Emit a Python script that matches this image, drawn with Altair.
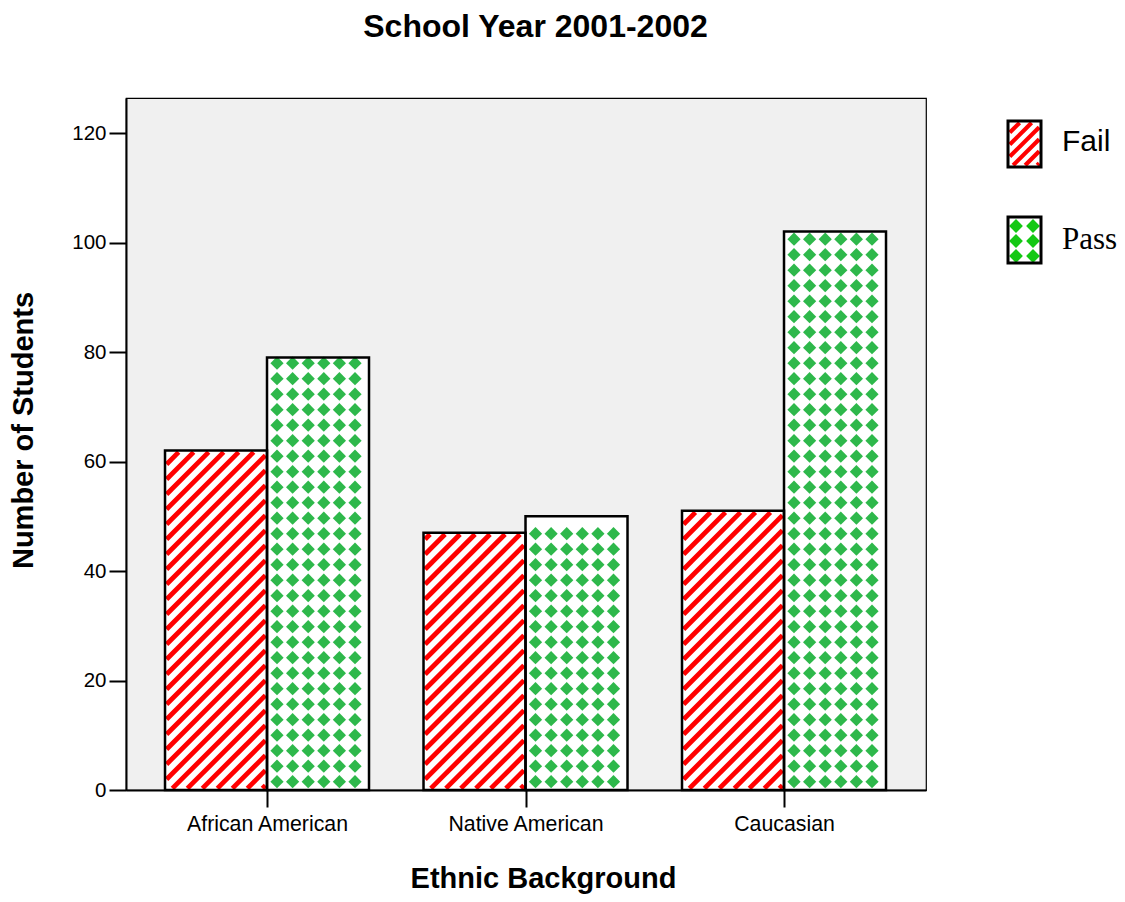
import altair as alt
import pandas as pd

# ---------------- data ----------------
chart_title = "School Year 2001-2002"
categories = ["African American", "Native American", "Caucasian"]
statuses = ["Fail", "Pass"]
fail_counts = [62, 47, 51]
pass_counts = [79, 50, 102]
y_ticks = [0, 20, 40, 60, 80, 100, 120]

rows = []
for i, c in enumerate(categories):
    rows.append({"category": c, "idx": i, "status": "Fail", "count": fail_counts[i]})
    rows.append({"category": c, "idx": i, "status": "Pass", "count": pass_counts[i]})
df = pd.DataFrame(rows)
legend_df = pd.DataFrame({"status": statuses, "li": list(range(len(statuses)))})
title_df = pd.DataFrame({"t": [chart_title]})

# ---------------- layout / style constants ----------------
PW, PH = 800, 692
KX = 258.5            # px per category step
X0 = -0.5455
X1 = X0 + PW / KX
YMAX = 126.4
KY = PH / YMAX        # px per student
BW_PX = 102
BW = BW_PX / KX
RED = "#ff0000"
GREEN = "#2eb84b"
LGREEN = "#14c814"
FONT = "Liberation Sans"

xscale = alt.Scale(domain=[X0, X1], nice=False, zero=False)
yscale = alt.Scale(domain=[0, YMAX], nice=False, zero=True)

base = alt.Chart(df).transform_calculate(
    xl=f"datum.idx + (datum.status == 'Fail' ? {-BW} : 0)"
).transform_calculate(
    xr=f"datum.xl + {BW}"
)

label_expr = "[" + ",".join(f"'{c}'" for c in categories) + "][round(datum.value)]"

x_axis = alt.Axis(
    values=[0, 1, 2], labelExpr=label_expr, title="Ethnic Background",
    tickSize=17, tickWidth=2, tickColor="black", domainColor="black", domainWidth=2,
    labelFont=FONT, labelFontSize=21.3, labelColor="black", labelPadding=6, grid=False,
    titleFont=FONT, titleFontSize=29, titleFontWeight="bold", titleColor="black",
    titleX=417, titleY=97, titleBaseline="alphabetic",
)
y_axis = alt.Axis(
    values=y_ticks, title="Number of Students",
    tickSize=17, tickWidth=2, tickColor="black", domainColor="black", domainWidth=2,
    labelFont=FONT, labelFontSize=20.5, labelColor="black", labelPadding=3, grid=False,
    titleFont=FONT, titleFontSize=29, titleFontWeight="bold", titleColor="black",
    titleAngle=270, titleX=-94, titleY=332, titleBaseline="alphabetic",
)


def X(field):
    return alt.X(field, scale=xscale, axis=x_axis)


def Y(field):
    return alt.Y(field, scale=yscale, axis=y_axis)


bars_bg = base.mark_rect(fill="white").encode(
    x=X("xl:Q"), x2="xr:Q", y=Y("count:Q"), y2=alt.datum(0),
)


def stripe_layer(ch, xl_expr, yb_expr, w_expr, h_expr, period, sw, ins, phase):
    return ch.transform_calculate(
        sxl=xl_expr
    ).transform_calculate(
        syb=yb_expr
    ).transform_calculate(
        Wi=f"({w_expr}) - {2 * ins}"
    ).transform_calculate(
        Hi=f"({h_expr}) - {2 * ins}"
    ).transform_calculate(
        cs=f"sequence(-datum.Wi + {phase}, datum.Hi, {period})"
    ).transform_flatten(["cs"], as_=["c"]).transform_calculate(
        sx1="max(0, -datum.c)"
    ).transform_calculate(
        sy1="max(0, datum.c)"
    ).transform_calculate(
        sx2="min(datum.Wi, datum.Hi - datum.c)"
    ).transform_calculate(
        sy2="datum.sx2 + datum.c"
    ).transform_calculate(
        xa=f"datum.sxl + ({ins} + datum.sx1) / {KX}"
    ).transform_calculate(
        xb=f"datum.sxl + ({ins} + datum.sx2) / {KX}"
    ).transform_calculate(
        ya=f"datum.syb + ({ins} + datum.sy1) / {KY}"
    ).transform_calculate(
        yb=f"datum.syb + ({ins} + datum.sy2) / {KY}"
    ).mark_rule(color=RED, strokeWidth=sw, strokeCap="butt").encode(
        x=X("xa:Q"), x2="xb:Q", y=Y("ya:Q"), y2="yb:Q",
    )


stripes = stripe_layer(
    base.transform_filter("datum.status == 'Fail'"),
    "datum.xl", "0", f"{BW_PX}", f"datum.count * {KY}",
    period=15, sw=4.8, ins=1.6, phase=3,
)

diamonds = base.transform_filter("datum.status == 'Pass'").transform_calculate(
    H=f"datum.count * {KY}"
).transform_calculate(
    rws="sequence(8.3, datum.H - 5, 15.5)"
).transform_calculate(
    cls="sequence(10, 96, 15.6)"
).transform_flatten(["rws"], as_=["ry"]).transform_flatten(["cls"], as_=["cx"]).transform_calculate(
    px=f"datum.xl + datum.cx / {KX}"
).transform_calculate(
    py=f"datum.ry / {KY}"
).mark_point(shape="diamond", filled=True, size=175, color=GREEN, opacity=1, strokeWidth=0).encode(
    x=X("px:Q"), y=Y("py:Q"),
)

outlines = base.mark_rect(fillOpacity=0, stroke="black", strokeWidth=2.5).encode(
    x=X("xl:Q"), x2="xr:Q", y=Y("count:Q"), y2=alt.datum(0),
)

# ---------------- legend (drawn as marks) ----------------
LX, LW, LH, LTOP, LSTEP = 882, 33, 46, 23, 96
leg = alt.Chart(legend_df).transform_calculate(
    lx=f"{X0} + {LX} / {KX}"
).transform_calculate(
    lxr=f"{X0} + {LX + LW} / {KX}"
).transform_calculate(
    lyt=f"{YMAX} - ({LTOP} + datum.li * {LSTEP}) / {KY}"
).transform_calculate(
    lyb=f"{YMAX} - ({LTOP + LH} + datum.li * {LSTEP}) / {KY}"
).transform_calculate(
    tx=f"{X0} + 936 / {KX}"
).transform_calculate(
    ty=f"{YMAX} - (44 + datum.li * 98) / {KY}"
)

leg_bg = leg.mark_rect(fill="white").encode(
    x=X("lx:Q"), x2="lxr:Q", y=Y("lyt:Q"), y2="lyb:Q",
)

leg_stripes = stripe_layer(
    leg.transform_filter("datum.status == 'Fail'"),
    "datum.lx", "datum.lyb", f"{LW}", f"{LH}",
    period=12, sw=4.2, ins=1.8, phase=2,
)

leg_diamonds = leg.transform_filter("datum.status == 'Pass'").transform_calculate(
    rws="[7, 22, 37]"
).transform_calculate(
    cls="[8, 25]"
).transform_flatten(["rws"], as_=["ry"]).transform_flatten(["cls"], as_=["cx"]).transform_calculate(
    px=f"datum.lx + datum.cx / {KX}"
).transform_calculate(
    py=f"datum.lyb + datum.ry / {KY}"
).mark_point(shape="diamond", filled=True, size=190, color=LGREEN, opacity=1, strokeWidth=0).encode(
    x=X("px:Q"), y=Y("py:Q"),
)

leg_outline = leg.mark_rect(fillOpacity=0, stroke="black", strokeWidth=3).encode(
    x=X("lx:Q"), x2="lxr:Q", y=Y("lyt:Q"), y2="lyb:Q",
)

leg_text_fail = leg.transform_filter("datum.status == 'Fail'").mark_text(
    font=FONT, fontSize=30, align="left", baseline="middle", color="black"
).encode(
    x=X("tx:Q"), y=Y("ty:Q"), text="status:N",
)
leg_text_pass = leg.transform_filter("datum.status == 'Pass'").mark_text(
    font="Liberation Serif", fontSize=31, align="left", baseline="middle", color="black"
).encode(
    x=X("tx:Q"), y=Y("ty:Q"), text="status:N",
)

title_mark = alt.Chart(title_df).mark_text(
    font=FONT, fontSize=32, fontWeight="bold", color="black",
    align="center", baseline="alphabetic",
).encode(
    x=alt.value(409.5), y=alt.value(-61), text="t:N",
)

chart = alt.layer(
    bars_bg, stripes, diamonds, outlines,
    leg_bg, leg_stripes, leg_diamonds, leg_outline, leg_text_fail, leg_text_pass,
    title_mark,
).properties(
    width=PW, height=PH,
    autosize=alt.AutoSizeParams(type="none"),
    padding={"left": 118, "top": 90, "right": 191, "bottom": 104},
).configure_view(
    fill="#f0f0f0", stroke="black", strokeWidth=1.2
)

chart.save("out.html", embed_options={"renderer": "svg", "actions": False})
